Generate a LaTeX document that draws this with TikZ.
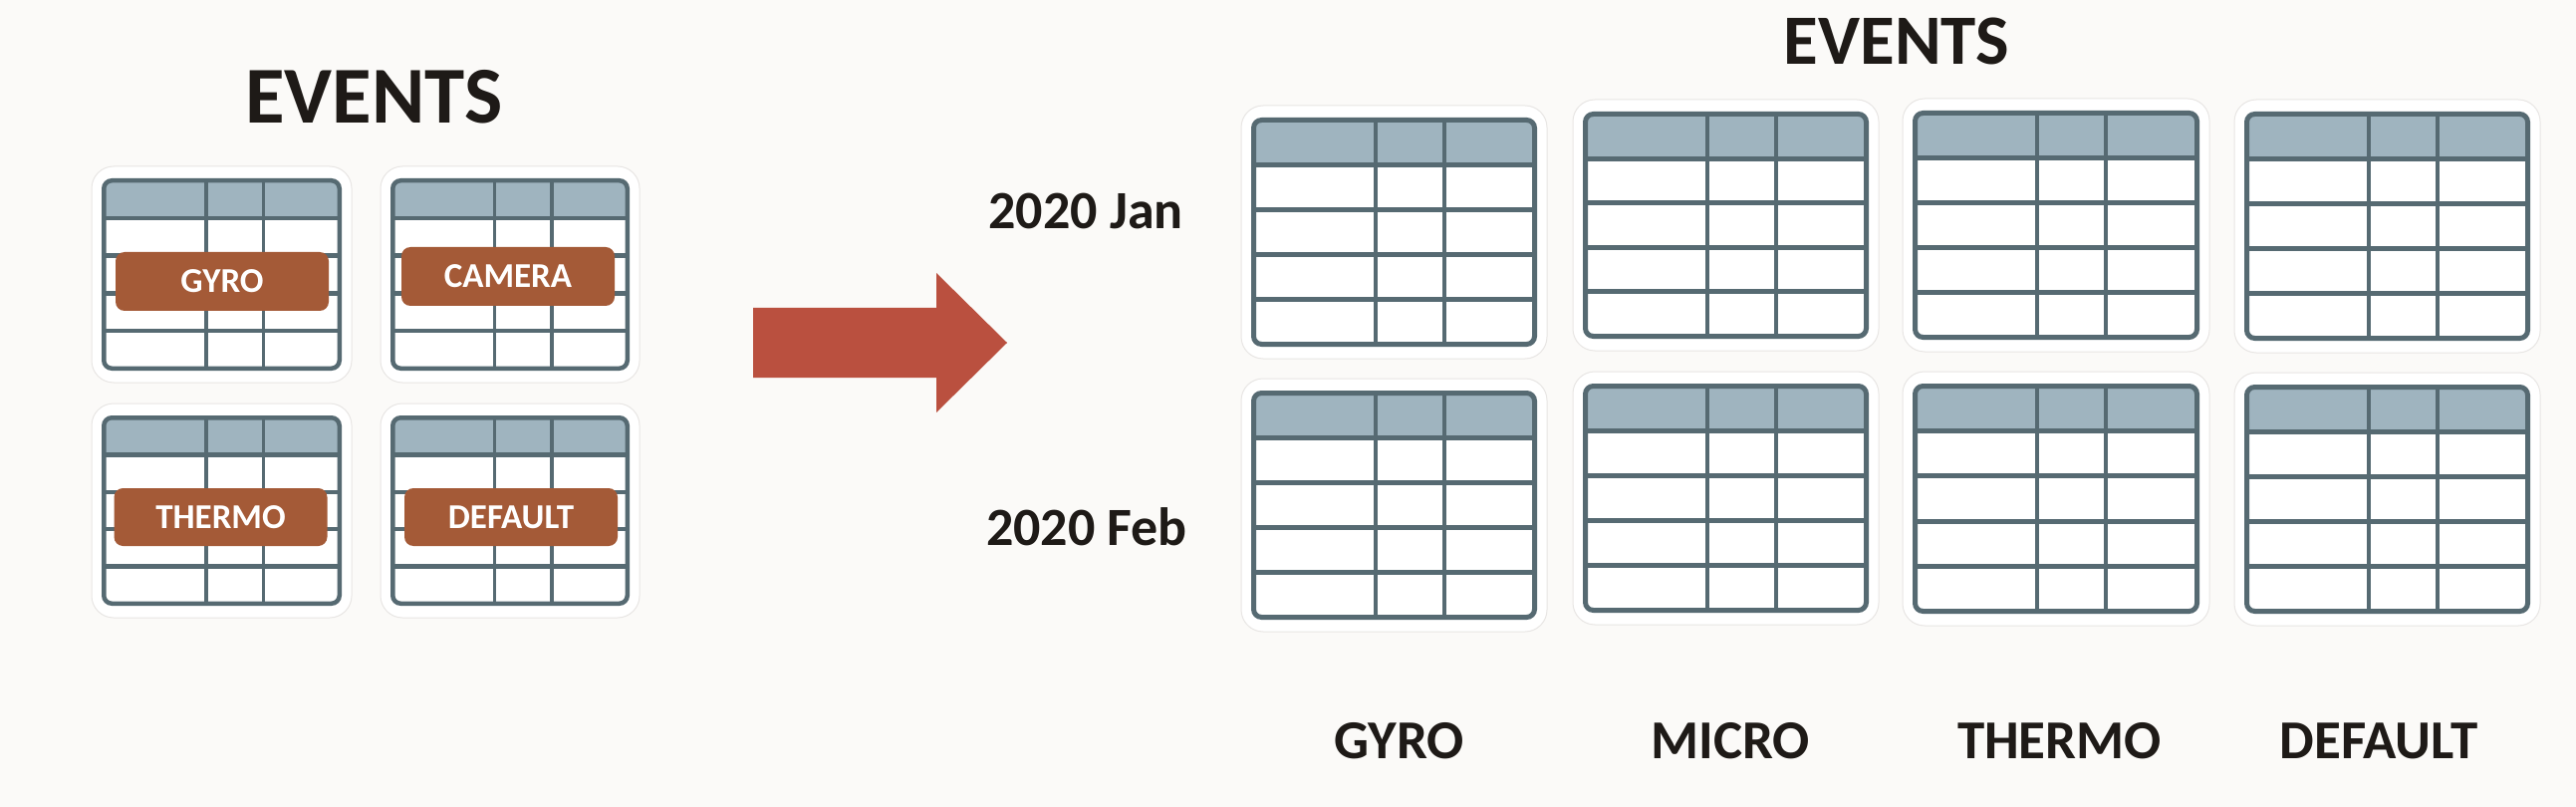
\documentclass[tikz,border=0pt]{standalone}
\usepackage{fontspec}
\setmainfont{Carlito}
\usetikzlibrary{fit}
\definecolor{bgc}{HTML}{FBFAF8}
\definecolor{txt}{HTML}{1E1A17}
\definecolor{tline}{HTML}{566A72}
\definecolor{hdr}{HTML}{9FB4BF}
\definecolor{lbl}{HTML}{A45A37}
\definecolor{arrc}{HTML}{BA503F}
\definecolor{bkedge}{HTML}{E8E6E4}
\tikzset{
  backing/.style={draw=bkedge, line width=1pt, fill=white, rounded corners=22pt, inner sep=0pt, outer sep=0pt},
  lblbox/.style={fill=lbl, rounded corners=9pt, text=white, font=\fontsize{35}{40}\selectfont\bfseries, inner sep=0pt, minimum width=214pt, minimum height=59pt},
  bigtitle/.style={text=txt, inner sep=0pt, anchor=base},
  rowlab/.style={text=txt, font=\fontsize{54}{60}\selectfont\bfseries, inner sep=0pt, anchor=base},
  collab/.style={text=txt, font=\fontsize{55}{60}\selectfont\bfseries, inner sep=0pt, anchor=base},
}
\newcommand\evtable[6]{%
  \pgfmathsetmacro\hw{#6/2}%
  \pgfmathsetmacro\vw{#6-0.8}%
  \pgfmathsetmacro\ax{#2+\hw}\pgfmathsetmacro\bx{#4-\hw}%
  \pgfmathsetmacro\ay{#3+\hw}\pgfmathsetmacro\by{#5-\hw}%
  \pgfmathsetmacro\dy{(\by-\ay)/5}%
  \pgfmathsetmacro\cxa{\ax+0.434*(\bx-\ax)}%
  \pgfmathsetmacro\cxb{\ax+0.678*(\bx-\ax)}%
  \node[backing, fit={(#2-10,#3-12) (#4+10,#5+12)}] (#1) {};
  \begin{scope}
    \clip[rounded corners=8pt] (\ax,\ay) rectangle (\bx,\by);
    \fill[white] (\ax,\ay) rectangle (\bx,\by);
    \fill[hdr] (\ax,\ay) rectangle (\bx,\ay+\dy);
  \end{scope}
  \foreach \k in {1,...,4} {\draw[tline, line width=#6pt] (\ax,\ay+\k*\dy) -- (\bx,\ay+\k*\dy);}
  \draw[tline, line width=\vw pt] (\cxa,\ay) -- (\cxa,\by) (\cxb,\ay) -- (\cxb,\by);
  \draw[tline, line width=#6pt, rounded corners=8pt] (\ax,\ay) rectangle (\bx,\by);
}
\begin{document}
\begin{tikzpicture}[x=1pt,y=-1pt]
  \fill[bgc] (0,0) rectangle (2586,810);
  \useasboundingbox (0,0) rectangle (2586,810);

  % left titles and tables
  \node[bigtitle, font=\fontsize{81}{90}\selectfont\bfseries] (lt) at (375.5,124) {EVENTS};
  \evtable{lg}{102}{179}{343}{372}{4.5}
  \evtable{lc}{392}{179}{632}{372}{4.5}
  \evtable{lth}{102}{417}{343}{608}{4.5}
  \evtable{ld}{392}{417}{632}{608}{4.5}
  \node[lblbox] (bg) at (223,282.5) {GYRO};
  \node[lblbox] (bc) at (510,277.5) {CAMERA};
  \node[lblbox, minimum height=58pt] (bt) at (221.5,519) {THERMO};
  \node[lblbox, minimum height=58pt] (bd) at (513,519) {DEFAULT};

  % arrow
  \fill[arrc] (756,309) -- (940,309) -- (940,274) -- (1011,344) -- (940,414) -- (940,379) -- (756,379) -- cycle;

  % right
  \node[bigtitle, font=\fontsize{71}{80}\selectfont\bfseries] (rt) at (1904,65) {EVENTS};
  \node[rowlab] (jan) at (1090,230) {2020 Jan};
  \node[rowlab] (feb) at (1091,547) {2020 Feb};

  \evtable{gj}{1256}{118}{1543}{348}{5}
  \evtable{mj}{1589}{112}{1876}{340}{5}
  \evtable{tj}{1920}{111}{2208}{341}{5}
  \evtable{dj}{2253}{112}{2540}{342}{5}
  \evtable{gf}{1256}{392}{1543}{622}{5}
  \evtable{mf}{1589}{385}{1876}{615}{5}
  \evtable{tf}{1920}{385}{2208}{616}{5}
  \evtable{df}{2253}{386}{2540}{616}{5}

  \node[collab] (cg) at (1404.5,761) {GYRO};
  \node[collab] (cm) at (1737,761) {MICRO};
  \node[collab] (ct) at (2067.5,761) {THERMO};
  \node[collab] (cd) at (2388,761) {DEFAULT};
\end{tikzpicture}
\end{document}
